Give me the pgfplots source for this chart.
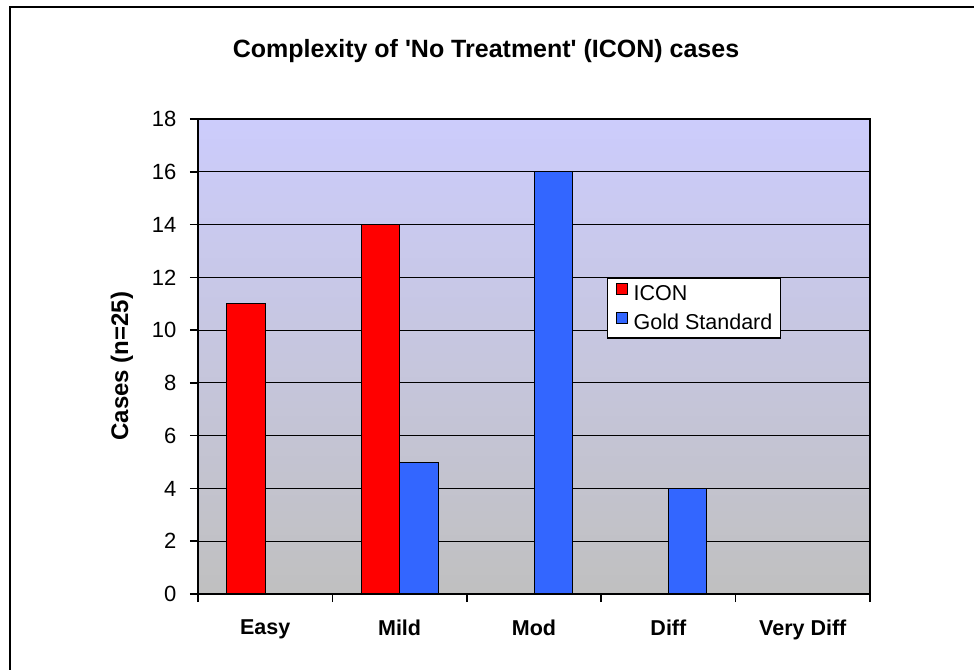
\documentclass[border=0pt]{standalone}
\usepackage{pgfplots}
\pgfplotsset{compat=1.18}
\usepackage{fontspec}
\setmainfont{Liberation Sans}
\definecolor{iconred}{RGB}{255,0,0}
\definecolor{goldblue}{RGB}{51,102,255}
\definecolor{bgtop}{RGB}{204,204,252}
\definecolor{bgbot}{RGB}{192,192,192}
\begin{document}
\begin{tikzpicture}
\useasboundingbox (-198pt,-75pt) rectangle (776pt,594pt);
\draw[line width=2pt] (-188pt,-76pt) -- (-188pt,587pt) -- (777pt,587pt);
\begin{axis}[
  at={(0pt,0pt)}, anchor=south west,
  scale only axis, width=672pt, height=475pt,
  ybar=0pt, bar width=38.5pt,
  xmin=0.5, xmax=5.5, ymin=0, ymax=18,
  ytick={0,2,...,18},
  xtick={0.5,1.5,2.5,3.5,4.5,5.5},
  xticklabels={Easy,Mild,Mod,Diff,Very Diff,},
  xtick pos=bottom, ytick pos=left,
  tick align=outside, major tick length=8pt,
  tick style={black, line width=1.5pt},
  ymajorgrids, grid style={black, line width=1pt},
  axis line style={line width=2pt},
  axis background/.style={top color=bgtop, bottom color=bgbot},
  /pgf/number format/assume math mode=true,
  yticklabel style={font=\fontsize{22}{26}\selectfont, xshift=-10pt},
  xticklabel style={font=\bfseries\fontsize{21.5}{25}\selectfont, xshift=67.2pt, yshift=-14pt},
  legend style={at={(0.6086,0.667)}, anchor=north west, draw=black, line width=1.5pt,
    fill=white, font=\fontsize{21.5}{24}\selectfont, row sep=8pt, inner xsep=6pt, inner ysep=5pt},
  legend cell align=left,
  sqlegend/.style={legend image code/.code={\path[draw=none,fill=none] (0pt,0pt) -- (18pt,0pt);\draw[##1, draw=black, line width=1.5pt] (3pt,-1pt) rectangle (14pt,10pt);}},
]
\addplot[fill=iconred, draw=black, line width=1pt, sqlegend] coordinates {(1,11) (2,14)};
\addplot[fill=goldblue, draw=black, line width=1pt, sqlegend] coordinates {(2,5) (3,16) (4,4)};
\legend{ICON, Gold Standard}
\end{axis}
\node[font=\bfseries\fontsize{25}{30}\selectfont] at (288pt,543pt) {Complexity of \textquotesingle No Treatment\textquotesingle\ (ICON) cases};
\node[rotate=90, font=\bfseries\fontsize{24}{28}\selectfont] at (-76pt,228pt) {Cases (n=25)};
\end{tikzpicture}
\end{document}
